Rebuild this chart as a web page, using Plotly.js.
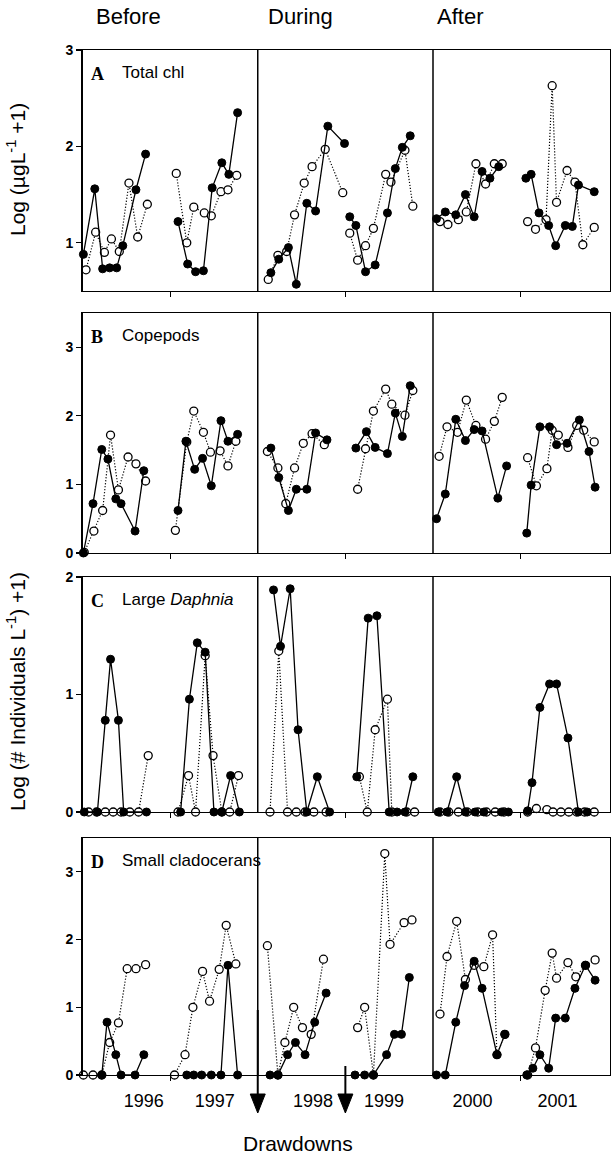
<!DOCTYPE html>
<html>
<head>
<meta charset="utf-8">
<script src="https://cdn.plot.ly/plotly-3.0.1.min.js"></script>
<style>html,body{margin:0;padding:0;background:#fff}#chart{width:612px;height:1161px}</style>
</head>
<body>
<div id="chart"></div>
<script>
// ---------- DATA (x = sampling date in decimal years, y = log values) ----------
const yearLabels = ['1996','1997','1998','1999','2000','2001'];
const yearLabelPos = [1996.70,1997.51,1998.63,1999.44,2000.45,2001.42];
const periodNames = ['Before','During','After'];
const panelNames = ['Total chl','Copepods','Large <i>Daphnia</i>','Small cladocerans'];
const panelLetters = ['A','B','C','D'];
const drawdownYears = [1998, 1999];
const periodBreaks = [1998, 2000];

// Panel A: total chlorophyll
const chlSolidX = [1996.01,1996.14,1996.23,1996.31,1996.39,1996.46,1996.61,1996.72,null,
 1997.09,1997.20,1997.29,1997.38,1997.48,1997.59,1997.67,1997.77,null,
 1998.15,1998.24,1998.35,1998.44,1998.56,1998.66,1998.80,1998.99,null,
 1999.05,1999.12,1999.23,1999.34,1999.48,1999.57,1999.65,1999.74,null,
 2000.04,2000.14,2000.26,2000.37,2000.47,2000.56,2000.65,2000.75,null,
 2001.06,2001.12,2001.21,2001.32,2001.40,2001.51,2001.59,2001.66,2001.84];
const chlSolidY = [0.88,1.56,0.73,0.74,0.74,0.97,1.55,1.92,null,
 1.22,0.78,0.70,0.71,1.57,1.83,1.71,2.35,null,
 0.69,0.83,0.95,0.57,1.41,1.33,2.21,2.03,null,
 1.27,1.18,0.70,0.77,1.31,1.77,1.99,2.11,null,
 1.25,1.32,1.29,1.50,1.27,1.74,1.67,1.79,null,
 1.67,1.71,1.31,1.18,0.97,1.18,1.17,1.60,1.53];
const chlOpenX = [1996.04,1996.15,1996.25,1996.33,1996.42,1996.53,1996.63,1996.74,null,
 1997.07,1997.19,1997.27,1997.39,1997.47,1997.58,1997.66,1997.76,null,
 1998.12,1998.23,1998.33,1998.42,1998.53,1998.62,1998.77,1998.97,null,
 1999.05,1999.14,1999.23,1999.32,1999.46,1999.52,1999.68,1999.77,null,
 2000.08,2000.17,2000.29,2000.38,2000.49,2000.60,2000.70,2000.79,null,
 2001.08,2001.17,2001.29,2001.36,2001.41,2001.53,2001.62,2001.71,2001.84];
const chlOpenY = [0.72,1.11,0.90,1.04,0.91,1.62,1.06,1.40,null,
 1.72,1.00,1.37,1.31,1.28,1.53,1.55,1.70,null,
 0.62,0.87,0.91,1.29,1.62,1.79,1.97,1.52,null,
 1.10,0.82,0.97,1.15,1.71,1.63,1.96,1.38,null,
 1.22,1.19,1.24,1.32,1.82,1.61,1.82,1.82,null,
 1.22,1.14,1.24,2.63,1.42,1.75,1.63,0.98,1.16];

// Panel B: copepods
const copSolidX = [1996.01,1996.12,1996.22,1996.29,1996.38,1996.44,1996.60,1996.70,null,
 1997.09,1997.18,1997.28,1997.37,1997.47,1997.58,1997.66,1997.77,null,
 1998.15,1998.24,1998.35,1998.44,1998.56,1998.66,1998.79,null,
 1999.12,1999.24,1999.34,1999.48,1999.57,1999.65,1999.74,null,
 2000.04,2000.14,2000.26,2000.37,2000.47,2000.56,2000.74,2000.84,null,
 2001.07,2001.12,2001.22,2001.33,2001.41,2001.53,2001.67,2001.78,2001.85];
const copSolidY = [0,0.72,1.51,1.37,0.79,0.72,0.32,1.20,null,
 0.62,1.63,1.22,1.38,0.98,1.93,1.63,1.73,null,
 1.53,1.10,0.62,0.93,0.93,1.75,1.65,null,
 1.53,1.77,1.54,1.45,2.04,1.70,2.44,null,
 0.50,0.86,1.95,1.64,1.80,1.78,0.80,1.27,null,
 0.29,0.99,1.84,1.84,1.58,1.60,1.94,1.48,0.96];
const copOpenX = [1996.02,1996.13,1996.23,1996.32,1996.41,1996.52,1996.61,1996.72,null,
 1997.06,1997.19,1997.27,1997.38,1997.46,1997.57,1997.66,1997.75,null,
 1998.11,1998.23,1998.32,1998.42,1998.52,1998.62,1998.76,null,
 1999.14,1999.23,1999.32,1999.46,1999.53,1999.68,1999.77,null,
 2000.07,2000.16,2000.28,2000.38,2000.49,2000.60,2000.70,2000.79,null,
 2001.08,2001.18,2001.30,2001.36,2001.43,2001.54,2001.64,2001.72,2001.84];
const copOpenY = [0.01,0.32,0.62,1.72,0.92,1.40,1.30,1.05,null,
 0.33,1.62,2.07,1.76,1.47,1.49,1.27,1.63,null,
 1.48,1.24,0.72,1.24,1.60,1.74,1.58,null,
 0.93,1.52,2.07,2.39,2.17,2.01,2.37,null,
 1.41,1.84,1.76,2.23,1.86,1.66,1.92,2.27,null,
 1.39,0.98,1.23,1.79,1.72,1.54,1.86,1.79,1.62];

// Panel C: large Daphnia
const dapSolidX = [1996.02,1996.17,1996.26,1996.32,1996.41,1996.47,1996.73,null,
 1997.12,1997.22,1997.31,1997.40,1997.50,1997.59,1997.69,1997.79,null,
 1998.18,1998.26,1998.37,1998.46,1998.56,1998.68,1998.82,null,
 1999.13,1999.26,1999.36,1999.50,1999.59,1999.68,1999.77,null,
 2000.06,2000.16,2000.27,2000.37,2000.48,2000.58,2000.78,2000.86,null,
 2001.08,2001.13,2001.22,2001.33,2001.41,2001.54,2001.66,2001.76];
const dapSolidY = [0,0,0.78,1.30,0.78,0,0,null,
 0,0.96,1.44,1.36,0,0,0.31,0,null,
 1.89,1.41,1.90,0.70,0,0.30,0,null,
 0.30,1.65,1.67,0,0,0,0.30,null,
 0,0,0.30,0,0,0,0,0,null,
 0.01,0.25,0.89,1.09,1.09,0.63,0,0];
const dapOpenX = [1996.07,1996.16,1996.26,1996.35,1996.44,1996.54,1996.64,1996.75,null,
 1997.09,1997.21,1997.29,1997.40,1997.49,1997.59,1997.68,1997.78,null,
 1998.14,1998.24,1998.34,1998.44,1998.54,1998.64,1998.78,null,
 1999.16,1999.25,1999.34,1999.48,1999.53,1999.70,1999.79,null,
 2000.08,2000.18,2000.29,2000.39,2000.51,2000.61,2000.71,2000.81,null,
 2001.08,2001.18,2001.30,2001.37,2001.46,2001.55,2001.64,2001.73,2001.84];
const dapOpenY = [0,0,0,0,0,0,0,0.48,null,
 0,0.31,0,1.33,0.48,0,0,0.31,null,
 0,1.37,0,0,0,0,0,null,
 0.30,0,0.70,0.96,0,0,0,null,
 0,0,0,0,0,0,0,0,null,
 0,0.03,0.02,0,0,0,0,0,0];

// Panel D: small cladocerans
const claSolidX = [1996.22,1996.28,1996.38,1996.44,1996.60,1996.70,null,
 1997.19,1997.27,1997.36,1997.47,1997.58,1997.66,1997.77,null,
 1998.14,1998.23,1998.34,1998.43,1998.54,1998.65,1998.78,null,
 1999.11,1999.22,1999.32,1999.47,1999.56,1999.64,1999.73,null,
 2000.04,2000.14,2000.26,2000.36,2000.47,2000.56,2000.73,2000.82,null,
 2001.07,2001.14,2001.22,2001.32,2001.40,2001.51,2001.62,2001.74,2001.85];
const claSolidY = [0,0.78,0.30,0,0,0.30,null,
 0,0,0,0,0,1.62,0,null,
 0,0,0.30,0.48,0.30,0.78,1.21,null,
 0,0,0,0.30,0.60,0.60,1.44,null,
 0,0,0.78,1.32,1.68,1.28,0.30,0.60,null,
 0,0.10,0.30,0.10,0.84,0.84,1.28,1.62,1.40];
const claOpenX = [1996.01,1996.12,1996.22,1996.31,1996.41,1996.51,1996.61,1996.72,null,
 1997.05,1997.17,1997.26,1997.37,1997.45,1997.56,1997.64,1997.75,null,
 1998.11,1998.23,1998.31,1998.41,1998.51,1998.61,1998.75,null,
 1999.14,1999.22,1999.32,1999.45,1999.51,1999.67,1999.76,null,
 2000.08,2000.16,2000.27,2000.37,2000.47,2000.58,2000.68,2000.73,2000.82,null,
 2001.08,2001.17,2001.28,2001.36,2001.41,2001.54,2001.63,2001.74,2001.85];
const claOpenY = [0,0,0,0.48,0.77,1.57,1.57,1.63,null,
 0,0.30,1.00,1.53,1.09,1.56,2.21,1.64,null,
 1.91,0,0.48,1.00,0.70,0.60,1.71,null,
 0.70,1.00,0,3.27,1.93,2.25,2.29,null,
 0.90,1.75,2.27,1.41,1.62,1.60,2.07,0.30,0.60,null,
 0,0.40,1.25,1.80,1.43,1.66,1.45,1.62,1.70];

const yRanges = [[0.5,3],[0,3.5],[0,2],[0,3.5]];
const yTicks = [[1,2,3],[0,1,2,3],[0,1,2],[0,1,2,3]];

// ---------- LAYOUT GEOMETRY ----------
const W = 612, H = 1161;
const xDom = [82.5/W, 610/W];
const panelPx = [[50,291],[313,553],[577,812],[838,1075]]; // top,bottom in px
const yDoms = panelPx.map(p => [1 - p[1]/H, 1 - p[0]/H]);
const SANS = 'Liberation Sans, Arial, sans-serif';
const SERIF = 'Liberation Serif, Times New Roman, serif';

const series = [
  [chlSolidX, chlSolidY, chlOpenX, chlOpenY],
  [copSolidX, copSolidY, copOpenX, copOpenY],
  [dapSolidX, dapSolidY, dapOpenX, dapOpenY],
  [claSolidX, claSolidY, claOpenX, claOpenY]
];

const traces = [];
const layout = {
  width: W, height: H,
  margin: {l:0, r:0, t:0, b:0},
  paper_bgcolor: '#fff', plot_bgcolor: '#fff',
  showlegend: false,
  font: {family: SANS, color: '#000'},
  shapes: [], annotations: []
};

series.forEach((s, i) => {
  const k = i + 1;
  const xa = 'x' + (k === 1 ? '' : k), ya = 'y' + (k === 1 ? '' : k);
  traces.push({
    x: s[2], y: s[3], xaxis: xa, yaxis: ya, type: 'scatter', mode: 'lines+markers',
    connectgaps: false, cliponaxis: false,
    line: {color: '#000', width: 1.2, dash: '1.2px,1.8px'},
    marker: {symbol: 'circle', size: 8, color: '#fff', line: {color: '#000', width: 1.3}}
  });
  traces.push({
    x: s[0], y: s[1], xaxis: xa, yaxis: ya, type: 'scatter', mode: 'lines+markers',
    connectgaps: false, cliponaxis: false,
    line: {color: '#000', width: 1.3},
    marker: {symbol: 'circle', size: 8, color: '#000', line: {color: '#000', width: 1}}
  });
  const xName = 'xaxis' + (k === 1 ? '' : k), yName = 'yaxis' + (k === 1 ? '' : k);
  layout[xName] = {
    domain: xDom, anchor: ya, range: [1996, 2002.02],
    showline: true, mirror: true, linecolor: '#000', linewidth: 1.3,
    showgrid: false, zeroline: false, fixedrange: true,
    tickmode: 'array', tickvals: [1997, 1999, 2001], ticktext: ['', '', ''],
    ticks: 'outside', ticklen: 5, tickwidth: 1.2, tickcolor: '#000', showticklabels: false
  };
  layout[yName] = {
    domain: yDoms[i], anchor: xa, range: yRanges[i],
    showline: true, mirror: true, linecolor: '#000', linewidth: 1.3,
    showgrid: false, zeroline: false, fixedrange: true,
    tickmode: 'array', tickvals: yTicks[i], ticktext: yTicks[i].map(String),
    ticks: 'outside', ticklen: 5, tickwidth: 1.2, tickcolor: '#000',
    tickfont: {family: SANS, size: 14, color: '#000', weight: 'bold'}
  };
  // period dividers
  periodBreaks.forEach(b => {
    layout.shapes.push({type: 'line', xref: xa, yref: ya + ' domain', x0: b, x1: b, y0: 0, y1: 1,
      line: {color: '#000', width: 1.5}});
  });
  // panel labels
  layout.annotations.push({xref: 'paper', yref: 'paper', x: 89/W, y: yDoms[i][1] - 12/H,
    xanchor: 'left', yanchor: 'top', showarrow: false, text: '<b>' + panelLetters[i] + '</b>',
    font: {family: SERIF, size: 18, color: '#000'}});
  layout.annotations.push({xref: 'paper', yref: 'paper', x: 120/W, y: yDoms[i][1] - 11/H,
    xanchor: 'left', yanchor: 'top', showarrow: false, text: panelNames[i],
    font: {family: SANS, size: 17, color: '#000'}});
});

// year labels on a separate overlaying axis under panel D
layout.xaxis5 = {
  domain: xDom, anchor: 'y4', overlaying: 'x4', range: [1996, 2002.02],
  showline: false, showgrid: false, zeroline: false, fixedrange: true,
  tickmode: 'array', tickvals: yearLabelPos, ticktext: yearLabels,
  ticks: '', ticklabelstandoff: 13,
  tickfont: {family: SANS, size: 18, color: '#000'}
};
traces.push({x: [null], y: [null], xaxis: 'x5', yaxis: 'y4', type: 'scatter', mode: 'markers',
  hoverinfo: 'skip', showlegend: false});

// period headers
const hdrX = [128, 300, 460];
periodNames.forEach((p, j) => {
  layout.annotations.push({xref: 'paper', yref: 'paper', x: hdrX[j]/W, y: 1 - 17/H,
    xanchor: 'center', yanchor: 'middle', showarrow: false, text: p,
    font: {family: SANS, size: 22, color: '#000'}});
});
// y titles
layout.annotations.push({xref: 'paper', yref: 'paper', x: 16/W, y: 1 - 170/H, textangle: -90,
  xanchor: 'center', yanchor: 'middle', showarrow: false,
  text: 'Log (µgL<sup>-1</sup> +1)', font: {family: SANS, size: 21, color: '#000'}});
layout.annotations.push({xref: 'paper', yref: 'paper', x: 16/W, y: 1 - 692/H, textangle: -90,
  xanchor: 'center', yanchor: 'middle', showarrow: false,
  text: 'Log (# Individuals L<sup>-1</sup>) +1)', font: {family: SANS, size: 21, color: '#000'}});
// Drawdowns label
layout.annotations.push({xref: 'paper', yref: 'paper', x: 298/W, y: 1 - 1143/H,
  xanchor: 'center', yanchor: 'middle', showarrow: false, text: 'Drawdowns',
  font: {family: SANS, size: 21, color: '#000'}});

// drawdown arrows (vertical line + filled head)
const arrowTops = [1010, 1066];
drawdownYears.forEach((d, j) => {
  const yTop = 1 - arrowTops[j]/H, yHeadTop = 1 - 1094/H, yTip = 1 - 1113/H;
  layout.shapes.push({type: 'line', xref: 'x4', yref: 'paper', x0: d, x1: d, y0: yTop, y1: yHeadTop,
    line: {color: '#000', width: 2}});
  const hw = 7.5 / 87.6;
  layout.shapes.push({type: 'path', xref: 'x4', yref: 'paper',
    path: `M ${d-hw} ${yHeadTop} L ${d+hw} ${yHeadTop} L ${d} ${yTip} Z`,
    fillcolor: '#000', line: {color: '#000', width: 1}});
});

Plotly.newPlot('chart', traces, layout, {staticPlot: true});
</script>
</body>
</html>
